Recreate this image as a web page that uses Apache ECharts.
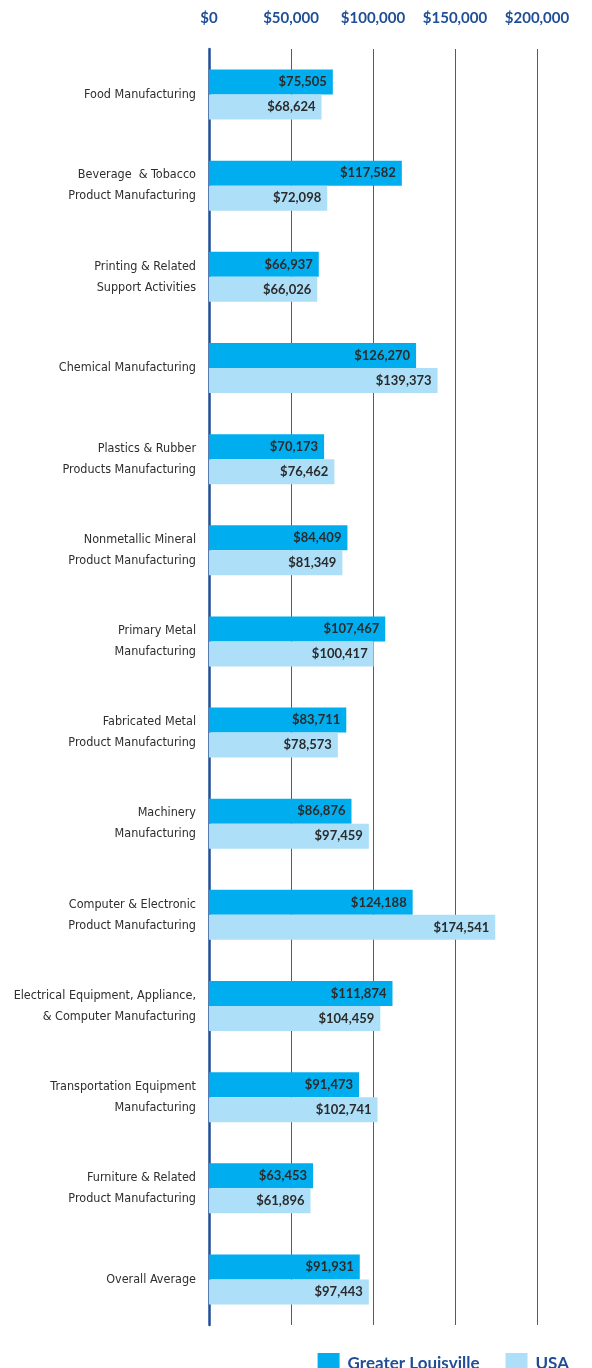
<!DOCTYPE html>
<html>
<head>
<meta charset="utf-8">
<title>Manufacturing wages</title>
<script src="https://cdn.jsdelivr.net/npm/echarts@6/dist/echarts.min.js"></script>
<style>
html,body{margin:0;padding:0;background:#fff;}
#main{width:592px;height:1368px;}
</style>
</head>
<body>
<div id="main"></div>
<script>
// categories, top to bottom
var categories = [
	'Food Manufacturing',
	'Beverage  & Tobacco\nProduct Manufacturing',
	'Printing & Related\nSupport Activities',
	'Chemical Manufacturing',
	'Plastics & Rubber\nProducts Manufacturing',
	'Nonmetallic Mineral\nProduct Manufacturing',
	'Primary Metal\nManufacturing',
	'Fabricated Metal\nProduct Manufacturing',
	'Machinery\nManufacturing',
	'Computer & Electronic\nProduct Manufacturing',
	'Electrical Equipment, Appliance,\n& Computer Manufacturing',
	'Transportation Equipment\nManufacturing',
	'Furniture & Related\nProduct Manufacturing',
	'Overall Average'
];
var louisville = [75505, 117582, 66937, 126270, 70173, 84409, 107467, 83711, 86876, 124188, 111874, 91473, 63453, 91931];
var usa = [68624, 72098, 66026, 139373, 76462, 81349, 100417, 78573, 97459, 174541, 104459, 102741, 61896, 97443];
var seriesNames = ['Greater Louisville', 'USA'];

var navy = '#1f4e96';

function money(v)
{
	return '$' + v.toString().replace(/\B(?=(\d{3})+(?!\d))/g, ',');
}

var myChart = echarts.init(document.getElementById('main'), null, {renderer: 'canvas'});

var labelStyle = {
	show: true,
	position: 'insideRight',
	distance: 6,
	color: '#2b2b2b',
	fontFamily: 'Lato',
	fontWeight: 'bold',
	fontSize: 13,
	formatter: function (p) { return money(p.value); }
};

var option = {
	backgroundColor: '#ffffff',
	animation: false,
	grid: {
		left: 209,
		right: 55,
		top: 49,
		bottom: 43,
		outerBoundsMode: 'none',
		containLabel: false
	},
	legend: {
		data: seriesNames,
		bottom: -12,
		right: 18,
		itemWidth: 22,
		itemHeight: 22,
		itemGap: 26,
		icon: 'rect',
		textStyle: {
			color: navy,
			fontFamily: 'Lato',
			fontWeight: 'bold',
			fontSize: 17,
			padding: [0, 0, 0, 3]
		}
	},
	xAxis: {
		type: 'value',
		position: 'top',
		min: 0,
		max: 200000,
		interval: 50000,
		axisLine: {show: false},
		axisTick: {show: false},
		axisLabel: {
			color: navy,
			fontFamily: 'Lato',
			fontWeight: 'bold',
			fontSize: 15,
			margin: 23,
			formatter: function (v) { return money(v); }
		},
		splitLine: {
			show: true,
			lineStyle: {color: '#3d5d9c', width: 1}
		}
	},
	yAxis: {
		type: 'category',
		inverse: true,
		data: categories,
		axisLine: {show: true, lineStyle: {color: navy, width: 2.5}},
		axisTick: {show: false},
		axisLabel: {
			color: '#2e2e2e',
			fontFamily: '"Liberation Sans Narrow", "DejaVu Sans Condensed", sans-serif',
			fontSize: 12.5,
			lineHeight: 21,
			margin: 13,
			align: 'right'
		}
	},
	series: [
		{
			name: seriesNames[0],
			type: 'bar',
			data: louisville,
			barWidth: 25,
			barGap: '0%',
			itemStyle: {color: '#00aeef'},
			label: labelStyle
		},
		{
			name: seriesNames[1],
			type: 'bar',
			data: usa,
			barWidth: 25,
			barGap: '0%',
			itemStyle: {color: '#addff8'},
			label: labelStyle
		}
	]
};

myChart.setOption(option);
window.onresize = myChart.resize;
</script>
</body>
</html>
